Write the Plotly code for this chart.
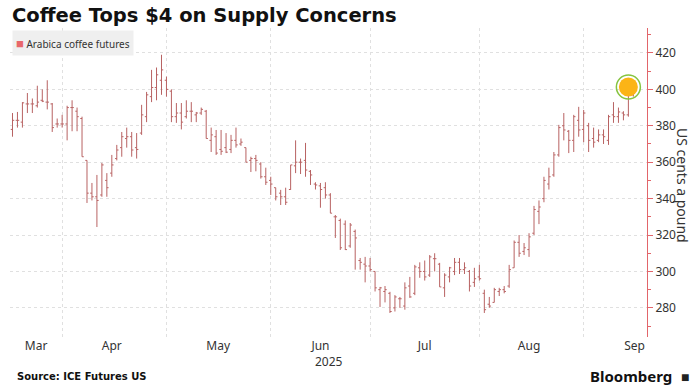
import pandas as pd
import plotly.graph_objects as go

# ---------------- data ----------------
holidays = ["2025-04-18", "2025-05-26", "2025-06-19", "2025-07-04", "2025-09-01"]
dates = [d for d in pd.bdate_range("2025-03-18", "2025-09-16") if d.strftime("%Y-%m-%d") not in holidays]

open_ = [378, 383, 382, 392, 392, 391, 394, 393, 392, 381,
         381, 381, 390, 388, 384, 361, 343, 341, 342, 350,
         354, 362, 368, 373, 374, 368, 376, 385, 396, 401,
         405, 405, 399, 385, 387, 385, 388, 386, 387, 388,
         372, 374, 367, 368, 367, 372, 370, 368, 361, 362,
         359, 352, 350, 346, 343, 341, 345, 358, 360, 361,
         355, 348, 347, 346, 342, 330, 328, 326, 314, 322,
         306, 304, 303, 300, 290, 289, 288, 280, 285, 281,
         292, 288, 302, 300, 298, 307, 304, 291, 297, 300,
         305, 301, 300, 294, 297, 288, 282, 283, 289, 290,
         292, 302, 316, 311, 312, 321, 333, 340, 348, 353,
         364, 380, 377, 372, 383, 378, 380, 373, 372, 375,
         372, 386, 385, 387, 386, 397]
high = [387, 387.6, 393, 398, 395, 402, 400, 405, 392.5, 384,
        386, 391, 394, 390, 385, 361, 348.6, 353, 359.6, 354,
        364, 369.5, 376.6, 379, 376.6, 376, 391.5, 398.6, 410.7, 412,
        419, 407, 400, 392.5, 392.5, 394, 393, 387.6, 390, 388.7,
        379, 377.7, 377.7, 376, 375, 379, 373, 368, 363, 364,
        360, 357, 352, 346, 344.8, 346, 358.5, 372, 362, 370.6,
        355.7, 349, 348.6, 349, 343, 331, 329, 328, 326.6, 323,
        307.4, 308, 307.4, 300, 291.5, 292, 288.8, 287, 286, 294,
        297, 303.6, 305, 306, 309, 310, 304.7, 299, 302.5, 307.4,
        307.4, 305, 300.8, 302, 303.6, 290, 286, 291, 291, 292,
        303.6, 317, 320, 315.6, 321, 336, 339, 352, 357, 365.6,
        380.5, 387, 377.7, 386, 390.4, 388.7, 381.6, 379, 378, 378,
        386, 393, 390, 388, 398, 401.3]
low = [374, 379, 379, 387, 387, 390, 393, 389, 376.6, 379,
       379, 372, 377, 377, 363, 337.6, 339, 324.4, 341, 341,
       352, 361, 363, 368, 363, 362, 375, 382, 393, 394,
       397, 396, 382, 381.6, 378, 384, 382, 382, 386, 373,
       365.6, 364, 364, 365, 365, 368, 369, 360, 354.6, 355,
       351, 347.5, 342, 339, 336.5, 336.5, 344.8, 354, 353.5, 352,
       347.5, 345, 335, 340, 332, 318.4, 311.8, 311.8, 313, 301,
       301, 294, 300, 289, 280.5, 283, 277.2, 278, 280, 279,
       285.5, 287, 296.5, 295, 297, 300, 291.5, 286, 294, 298,
       298.6, 298.6, 289, 291.5, 295, 277.2, 280, 283, 286.5, 288,
       291, 302, 308, 309, 308, 320, 326, 338, 345, 352,
       363, 372, 365, 365.6, 374, 371, 365.6, 368, 371, 370,
       369.5, 381.6, 381.6, 383, 385, 396]
close = [383, 383, 392.6, 392, 392, 393, 393.5, 393, 379, 381,
         381, 390, 390, 385, 363, 343, 341, 339, 358.5, 346,
         358.5, 366.7, 374, 374, 366.7, 367, 386, 397, 401, 408,
         410.7, 400, 385, 387, 382, 388, 388, 387, 389, 373,
         375, 365, 366, 365.5, 372, 369.5, 371, 360, 362, 361,
         352, 349, 348, 341, 341, 338, 358.5, 360, 360, 355.7,
         353, 347.5, 345, 342, 332, 330, 313, 312, 325.5, 318.4,
         305, 303, 301, 291, 291, 290, 278, 286, 285, 291,
         286, 302.5, 300, 297, 308, 307, 291.5, 298, 302, 305,
         301, 302, 292, 296, 296, 279, 281, 290, 290, 289,
         301, 316, 310, 313, 319, 334, 335.4, 350, 352, 364,
         379, 377.7, 372, 385, 377.7, 387, 372, 371, 375, 374,
         385, 385, 387.6, 386, 397, 400.8]

y_ticks = [280, 300, 320, 340, 360, 380, 400, 420]
month_starts = ["2025-04-01", "2025-05-01", "2025-06-02", "2025-07-01", "2025-08-01", "2025-09-02"]
month_label_pos = ["2025-03-24 18:00", "2025-04-15", "2025-05-15 10:00", "2025-06-16",
                   "2025-07-17", "2025-08-15", "2025-09-16 06:00"]
month_labels = ["Mar", "Apr", "May", "Jun", "Jul", "Aug", "Sep"]

BAR = "#b86262"
AXIS_RED = "#e2656a"
GRID = "#e0e0e0"
FONT = "Noto Sans"

fig = go.Figure()

# highlight circle on latest price
fig.add_trace(go.Scatter(
    x=[dates[-2]], y=[high[-1]], mode="markers", hoverinfo="skip",
    marker=dict(size=24, color="rgba(0,0,0,0)", line=dict(color="#86c440", width=1.5)),
    cliponaxis=False))
fig.add_trace(go.Scatter(
    x=[dates[-2]], y=[high[-1]], mode="markers", hoverinfo="skip",
    marker=dict(size=19, color="#fbb416", line=dict(width=0)),
    cliponaxis=False))

fig.add_trace(go.Ohlc(
    x=dates, open=open_, high=high, low=low, close=close,
    name="Arabica coffee futures", tickwidth=0.35,
    increasing=dict(line=dict(color=BAR, width=1)),
    decreasing=dict(line=dict(color=BAR, width=1)),
))

fig.update_layout(
    width=695, height=388,
    margin=dict(l=10, r=48, t=28, b=51),
    paper_bgcolor="white", plot_bgcolor="white",
    showlegend=False,
    font=dict(family=FONT, color="#333333", size=12),
    title=dict(text="<b>Coffee Tops $4 on Supply Concerns</b>",
               x=12 / 695, xanchor="left", xref="container",
               y=1 - 15 / 388, yanchor="middle", yref="container",
               font=dict(family="DejaVu Sans", size=19.5, color="#111111")),
    xaxis=dict(
        type="date",
        range=["2025-03-17 12:00", "2025-09-18 18:00"],
        rangebreaks=[dict(bounds=["sat", "mon"]), dict(values=holidays)],
        rangeslider=dict(visible=False),
        tickmode="array", tickvals=month_label_pos, ticktext=month_labels,
        ticks="", showgrid=False, zeroline=False, showline=False,
        tickfont=dict(size=12, color="#333333", family=FONT),
        minor=dict(tickmode="array", tickvals=month_starts, showgrid=True,
                   gridcolor=GRID, griddash="dot", gridwidth=1, ticks=""),
    ),
    yaxis=dict(
        side="right", range=[264, 433.7],
        tickmode="array", tickvals=y_ticks,
        showgrid=True, gridcolor=GRID, griddash="dot", gridwidth=1,
        showline=True, linecolor=AXIS_RED, linewidth=1,
        ticks="outside", tickcolor=AXIS_RED, ticklen=5,
        minor=dict(dtick=10, tick0=270, ticks="outside", ticklen=3, tickcolor=AXIS_RED, showgrid=False),
        zeroline=False,
        tickfont=dict(size=12, color="#333333", family=FONT),
    ),
    annotations=[
        dict(text="<span style='color:#e8676b;font-size:13px'>■</span> Arabica coffee futures",
             xref="paper", yref="paper", x=2 / 637, y=1 - 2 / 309,
             xanchor="left", yanchor="top", showarrow=False,
             bgcolor="#efefef", borderpad=3,
             font=dict(size=10, color="#333333", family=FONT)),
        dict(text="US cents a pound", textangle=90,
             xref="paper", yref="paper", x=(683 - 10) / 637, y=(337 - 185) / 309,
             xanchor="center", yanchor="middle", showarrow=False,
             font=dict(size=14, color="#333333", family=FONT)),
        dict(text="2025", xref="paper", yref="paper",
             x=(329 - 10) / 637, y=-(361 - 337) / 309,
             xanchor="center", yanchor="middle", showarrow=False,
             font=dict(size=12, color="#333333", family=FONT)),
        dict(text="<b>Source: ICE Futures US</b>", xref="paper", yref="paper",
             x=(15 - 10) / 637, y=-(376 - 337) / 309,
             xanchor="left", yanchor="middle", showarrow=False,
             font=dict(size=10, color="#111111", family="DejaVu Sans")),
        dict(text="<b>Bloomberg</b>", xref="paper", yref="paper",
             x=(674 - 10) / 637, y=-(376 - 337) / 309,
             xanchor="right", yanchor="middle", showarrow=False,
             font=dict(size=15, color="#111111", family=FONT)),
        dict(text="■", xref="paper", yref="paper",
             x=(685 - 10) / 637, y=-(376 - 337) / 309,
             xanchor="center", yanchor="middle", showarrow=False,
             font=dict(size=14, color="#222222", family=FONT)),
    ],
)

fig.write_html("out.html", config={"displayModeBar": False},
               post_script="document.body.style.margin='0px';")
